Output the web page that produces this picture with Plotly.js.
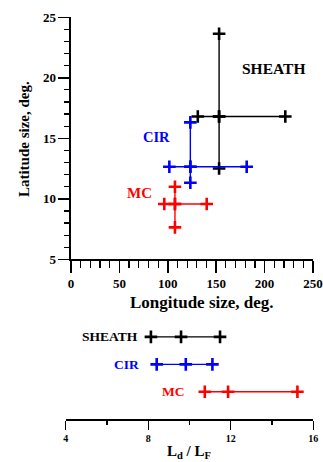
<!DOCTYPE html>
<html>
<head>
<meta charset="utf-8">
<script src="https://cdn.plot.ly/plotly-3.0.1.min.js"></script>
<style>html,body{margin:0;padding:0;background:#fff;}#chart{width:323px;height:462px;}</style>
</head>
<body>
<div id="chart"></div>
<script>
// Top panel: longitude / latitude sizes (center, horizontal extent, vertical extent)
const groups = ["SHEATH", "CIR", "MC"];
const colors = ["#000000", "#0000ff", "#ff0000"];
const centerLon = [153, 123.3, 107.4];
const centerLat = [16.8, 12.65, 9.57];
const lonMin = [131, 101.6, 96.4];
const lonMax = [221.4, 181.5, 140.2];
const latMin = [12.5, 11.33, 7.64];
const latMax = [23.64, 16.32, 11.0];

// Bottom panel: Ld / LF (min, mid, max) per group
const ratioMin = [8.13, 8.41, 10.74];
const ratioMid = [9.59, 9.82, 11.87];
const ratioMax = [11.48, 11.11, 15.23];
const rowPos = [3, 2, 1];

const xTicksTop = [0, 50, 100, 150, 200, 250];
const yTicksTop = [5, 10, 15, 20, 25];
const xTicksBottom = [4, 8, 12, 16];

const serif = "Liberation Serif, Times New Roman, serif";
const traces = [];
const mk = (c) => ({symbol: "cross-thin", size: 9, line: {color: c, width: 2.6}, color: c});

groups.forEach((g, i) => {
  const c = colors[i];
  traces.push({
    type: "scatter", mode: "lines+markers", xaxis: "x", yaxis: "y",
    x: [lonMin[i], centerLon[i], lonMax[i]],
    y: [centerLat[i], centerLat[i], centerLat[i]],
    line: {color: c, width: 1.4}, marker: mk(c), showlegend: false, hoverinfo: "skip"
  });
  traces.push({
    type: "scatter", mode: "lines+markers", xaxis: "x", yaxis: "y",
    x: [centerLon[i], centerLon[i], centerLon[i]],
    y: [latMin[i], centerLat[i], latMax[i]],
    line: {color: c, width: 1.4}, marker: mk(c), showlegend: false, hoverinfo: "skip"
  });
  traces.push({
    type: "scatter", mode: "lines+markers", xaxis: "x2", yaxis: "y2",
    x: [ratioMin[i], ratioMid[i], ratioMax[i]],
    y: [rowPos[i], rowPos[i], rowPos[i]],
    line: {color: c, width: 1.4}, marker: mk(c), showlegend: false, hoverinfo: "skip"
  });
});

const topLabelX = [209.7, 88.3, 70.8];
const topLabelY = [20.73, 15.1, 10.5];
const topLabelSize = [15.5, 14.5, 15];
const botLabelX = [7.62, 7.66, 9.88];

const annotations = [];
groups.forEach((g, i) => {
  annotations.push({
    xref: "x", yref: "y", x: topLabelX[i], y: topLabelY[i], text: g, showarrow: false,
    font: {family: serif, size: topLabelSize[i], color: colors[i], weight: "bold"},
    xanchor: "center", yanchor: "middle"
  });
  annotations.push({
    xref: "x2", yref: "y2", x: botLabelX[i], y: rowPos[i], text: g, showarrow: false,
    font: {family: serif, size: 13.5, color: colors[i], weight: "bold"},
    xanchor: "right", yanchor: "middle"
  });
});
annotations.push({
  xref: "paper", yref: "paper", x: 0.6245, y: 0.345, text: "Longitude size, deg.", showarrow: false,
  font: {family: serif, size: 17, color: "#000", weight: "bold"}, xanchor: "center", yanchor: "middle"
});
annotations.push({
  xref: "paper", yref: "paper", x: 0.0743, y: 0.699, text: "Latitude size, deg.", showarrow: false,
  textangle: -90, font: {family: serif, size: 15, color: "#000", weight: "bold"}, xanchor: "center", yanchor: "middle"
});
annotations.push({
  xref: "paper", yref: "paper", x: 0.585, y: 0.0223, text: "L<sub>d</sub> / L<sub>F</sub>", showarrow: false,
  font: {family: serif, size: 15, color: "#000", weight: "bold"}, xanchor: "center", yanchor: "middle"
});

const layout = {
  width: 323, height: 462,
  margin: {l: 0, r: 0, t: 0, b: 0},
  paper_bgcolor: "#fff", plot_bgcolor: "rgba(0,0,0,0)",
  showlegend: false,
  xaxis: {
    domain: [0.2198, 0.969], range: [0, 250], anchor: "y",
    tickvals: xTicksTop, ticktext: xTicksTop.map(String),
    showline: true, linecolor: "#000", linewidth: 1.5, ticks: "outside", ticklen: 12, tickwidth: 1.5, tickcolor: "#000",
    minor: {dtick: 10, ticks: "outside", ticklen: 7, tickwidth: 1.2, tickcolor: "#000", showgrid: false},
    showgrid: false, zeroline: false,
    tickfont: {family: serif, size: 13, color: "#000", weight: "bold"}
  },
  yaxis: {
    domain: [0.4387, 0.9626], range: [5, 25], anchor: "x",
    tickvals: yTicksTop, ticktext: yTicksTop.map(String),
    showline: true, linecolor: "#000", linewidth: 1.5, ticks: "outside", ticklen: 11, tickwidth: 1.5, tickcolor: "#000",
    minor: {dtick: 1, ticks: "outside", ticklen: 5, tickwidth: 1.2, tickcolor: "#000", showgrid: false},
    showgrid: false, zeroline: false,
    tickfont: {family: serif, size: 13, color: "#000", weight: "bold"}
  },
  xaxis2: {
    domain: [0.2034, 0.970], range: [4, 16], anchor: "y2",
    tickvals: xTicksBottom, ticktext: xTicksBottom.map(String),
    showline: true, linecolor: "#000", linewidth: 1.3, ticks: "outside", ticklen: 9, tickwidth: 1.3, tickcolor: "#000",
    minor: {dtick: 2, ticks: "outside", ticklen: 4, tickwidth: 1.2, tickcolor: "#000", showgrid: false},
    showgrid: false, zeroline: false,
    tickfont: {family: serif, size: 10, color: "#000", weight: "bold"}
  },
  yaxis2: {
    domain: [0.0924, 0.2965], range: [0, 3.43], anchor: "x2",
    visible: false, showgrid: false, zeroline: false
  },
  annotations: annotations
};

Plotly.newPlot("chart", traces, layout, {staticPlot: true, displayModeBar: false});
</script>
</body>
</html>
